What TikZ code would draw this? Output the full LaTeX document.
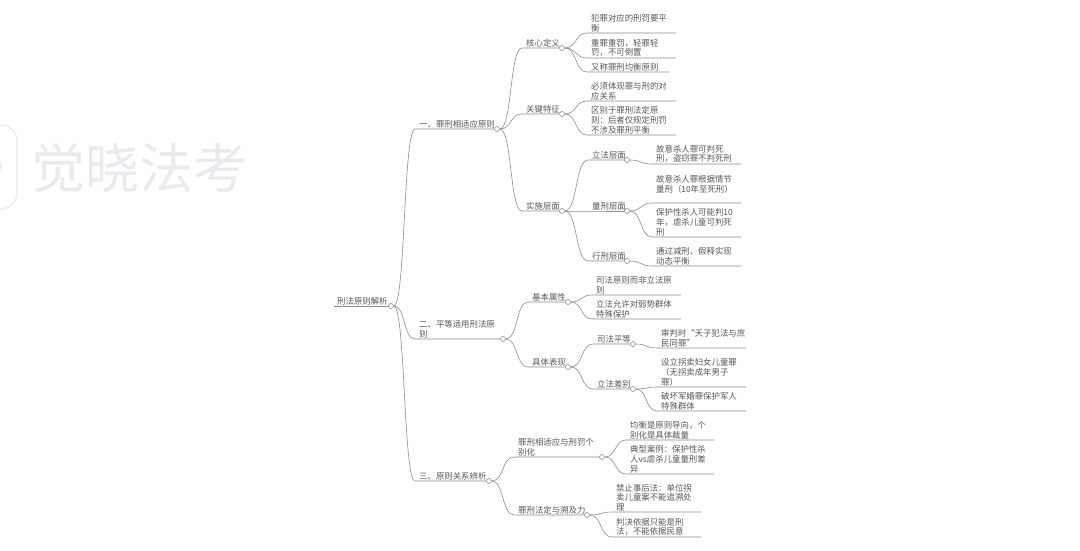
\documentclass[tikz,border=0pt]{standalone}
\usepackage{fontspec}
\setmainfont{Noto Sans CJK SC}
\usetikzlibrary{positioning,calc}
\definecolor{linegray}{HTML}{8C8C8C}
\definecolor{inkgray}{HTML}{555555}
\definecolor{markgray}{HTML}{E9EAEE}
\tikzset{
  txt/.style={inner sep=0pt,align=left,text=inkgray,font=\fontsize{8.4}{9.7}\selectfont},
  dot/.style={circle,draw=linegray,fill=white,line width=0.6pt,inner sep=0pt,minimum size=5pt},
  wire/.style={draw=linegray,line width=0.6pt},
  branch/.style={to path={.. controls ($(\tikztostart)!0.55!(\tikztotarget |- \tikztostart)$) and ($(\tikztotarget)!0.55!(\tikztostart |- \tikztotarget)$) .. (\tikztotarget)}},
}
\begin{document}
\begin{tikzpicture}[x=1pt,y=-1pt]
\useasboundingbox (0,0) rectangle (1080,550);
% watermark, cut off at the left edge
\begin{scope}
\clip (0,0) rectangle (1080,550);
\draw[markgray,line width=1.2pt,rounded corners=16pt] (-30,125) rectangle (17,209);
\fill[markgray] (-3,167) circle (5);
\end{scope}
\node[inner sep=0pt,anchor=west,text=markgray,font=\fontsize{54}{54}\selectfont] (mark) at (31,168) {觉晓法考};
% root
\node[dot] (root) at (391,306) {};
\coordinate (rootS) at (334,306);
\node[txt,above right=1pt and 3pt of rootS] (rootT) {刑法原则解析};
\draw[wire] (rootS) -- (root);
% inner branches: name/parent/start x/y/dot x/text
\foreach \nm/\pa/\xx/\yy/\xd/\lab in {
  a/root/415/129/497/{一、罪刑相适应原则},
  b/root/415/339/503/{二、平等适用刑法原\\则},
  c/root/415/481/489/{三、原则关系辨析},
  aa/a/522/48/562/{核心定义},
  ab/a/522/114/562/{关键特征},
  ac/a/522/211/562/{实施层面},
  ba/b/528/302/568/{基本属性},
  bb/b/528/367/568/{具体表现},
  ca/c/514/457/602/{罪刑相适应与刑罚个\\别化},
  cb/c/514/515/587/{罪刑法定与溯及力},
  aca/ac/588/160/627/{立法层面},
  acb/ac/588/211/627/{量刑层面},
  acc/ac/588/261/627/{行刑层面},
  bba/bb/593/344/633/{司法平等},
  bbb/bb/593/389/633/{立法差别}} {
  \coordinate (\nm S) at (\xx,\yy);
  \node[dot] (\nm) at (\xd,\yy) {};
  \node[txt,above right=1pt and 4pt of \nm S] (\nm T) {\lab};
  \draw[wire] (\pa.east) to[branch] (\nm S) -- (\nm.west);
}
% leaves: name/parent/start x/y/end x/text
\foreach \nm/\pa/\xx/\yy/\xe/\lab in {
  l1/aa/587/33/676/{犯罪对应的刑罚要平\\衡},
  l2/aa/587/58/676/{重罪重罚，轻罪轻\\罚，不可倒置},
  l3/aa/587/72/669/{又称罪刑均衡原则},
  l4/ab/587/101/676/{必须体现罪与刑的对\\应关系},
  l5/ab/587/135/676/{区别于罪刑法定原\\则：后者仅规定刑罚\\不涉及罪刑平衡},
  l6/aca/652/164/741/{故意杀人罪可判死\\刑，盗窃罪不判死刑},
  l7/acb/652/203/741/{故意杀人罪根据情节\\量刑（10年至死刑）\\~},
  l8/acb/652/237/741/{保护性杀人可能判10\\年，虐杀儿童可判死\\刑},
  l9/acc/652/266/741/{通过减刑、假释实现\\动态平衡},
  l10/ba/592/295/681/{司法原则而非立法原\\则},
  l11/ba/592/319/681/{立法允许对弱势群体\\特殊保护},
  l12/bba/657/348/746/{审判时“天子犯法与庶\\民同罪”},
  l13/bbb/657/387/746/{设立拐卖妇女儿童罪\\（无拐卖成年男子\\罪）},
  l14/bbb/657/411/746/{破坏军婚罪保护军人\\特殊群体},
  l15/ca/626/440/714/{均衡是原则导向，个\\别化是具体裁量},
  l16/ca/626/474/714/{典型案例：保护性杀\\人vs虐杀儿童量刑差\\异},
  l17/cb/612/512/701/{禁止事后法：单位拐\\卖儿童案不能追溯处\\理},
  l18/cb/612/537/701/{判决依据只能是刑\\法，不能依据民意}} {
  \coordinate (\nm S) at (\xx,\yy);
  \coordinate (\nm E) at (\xe,\yy);
  \node[txt,above right=1pt and 4pt of \nm S] (\nm T) {\lab};
  \draw[wire] (\pa.east) to[branch] (\nm S) -- (\nm E);
}
\end{tikzpicture}
\end{document}
